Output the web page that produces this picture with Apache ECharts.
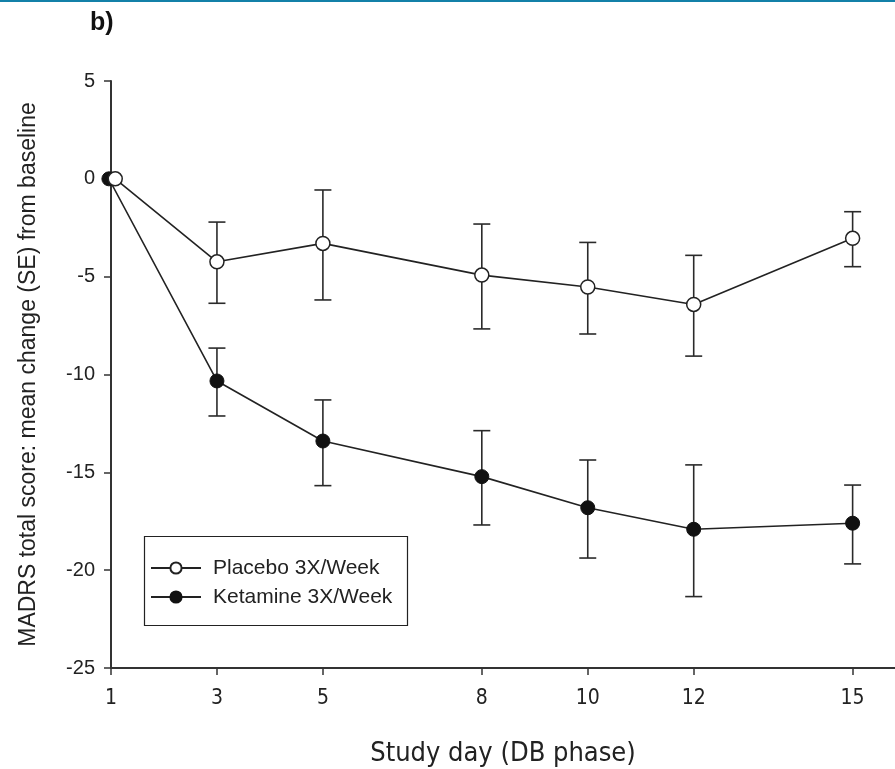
<!DOCTYPE html>
<html>
<head>
<meta charset="utf-8">
<script src="https://cdn.jsdelivr.net/npm/echarts@6/dist/echarts.min.js"></script>
<style>
html,body{margin:0;padding:0;background:#fff;}
#c{width:895px;height:769px;}
</style>
</head>
<body>
<div id="c"></div>
<script>
// ---- data ----
var dayTicks = [1, 3, 5, 8, 10, 12, 15];
var placeboDays = [1.08, 3, 5, 8, 10, 12, 15];
var placeboMean = [0, -4.24, -3.30, -4.92, -5.53, -6.42, -3.04];
var placeboUpper = [null, -2.21, -0.57, -2.31, -3.25, -3.91, -1.68];
var placeboLower = [null, -6.36, -6.19, -7.67, -7.93, -9.06, -4.49];
var ketamineDays = [0.96, 3, 5, 8, 10, 12, 15];
var ketamineMean = [0, -10.33, -13.40, -15.22, -16.81, -17.91, -17.60];
var ketamineUpper = [null, -8.65, -11.30, -12.87, -14.37, -14.62, -15.65];
var ketamineLower = [null, -12.12, -15.68, -17.69, -19.38, -21.35, -19.68];
var seriesNames = ['Placebo 3X/Week', 'Ketamine 3X/Week'];

function pts(xs, ys) { return xs.map(function (x, i) { return [x, ys[i]]; }); }
function bars(xs, up, lo) {
  var out = [];
  xs.forEach(function (x, i) { if (up[i] !== null) out.push([x, lo[i], up[i]]); });
  return out;
}
function errRender(params, api) {
  var x = api.value(0);
  var lo = api.coord([x, api.value(1)]);
  var hi = api.coord([x, api.value(2)]);
  var hw = 8.5;
  var st = { stroke: '#2a2a2a', lineWidth: 1.6 };
  return {
    type: 'group',
    children: [
      { type: 'line', shape: { x1: hi[0], y1: hi[1], x2: lo[0], y2: lo[1] }, style: st },
      { type: 'line', shape: { x1: hi[0] - hw, y1: hi[1], x2: hi[0] + hw, y2: hi[1] }, style: st },
      { type: 'line', shape: { x1: lo[0] - hw, y1: lo[1], x2: lo[0] + hw, y2: lo[1] }, style: st }
    ]
  };
}

var FONT = 'Liberation Sans, Arial, sans-serif';
var NARROW = 'DejaVu Sans Condensed, Liberation Sans, Arial, sans-serif';

var chart = echarts.init(document.getElementById('c'), null, { renderer: 'canvas' });
chart.setOption({
  animation: false,
  backgroundColor: '#ffffff',
  grid: { left: 111, right: 0, top: 81, bottom: 101, containLabel: false, outerBoundsMode: 'none' },
  xAxis: {
    type: 'value', min: 1, max: 15.8,
    name: 'Study day (DB phase)', nameLocation: 'middle', nameGap: 72,
    nameTextStyle: { fontFamily: NARROW, fontSize: 27, color: '#222' },
    axisLine: { show: true, onZero: false, lineStyle: { color: '#333', width: 2 } },
    axisTick: { show: true, inside: false, length: 7, customValues: dayTicks, lineStyle: { color: '#333', width: 1.5 } },
    axisLabel: { customValues: dayTicks, margin: 20, fontFamily: NARROW, fontSize: 21, color: '#222' },
    splitLine: { show: false }
  },
  yAxis: {
    type: 'value', min: -25, max: 5, interval: 5,
    name: 'MADRS total score: mean change (SE) from baseline', nameLocation: 'middle', nameGap: 71,
    nameTextStyle: { fontFamily: FONT, fontSize: 23, color: '#222' },
    axisLine: { show: true, lineStyle: { color: '#333', width: 2 } },
    axisTick: { show: true, inside: false, length: 7, lineStyle: { color: '#333', width: 1.5 } },
    axisLabel: { margin: 16, fontFamily: FONT, fontSize: 20, color: '#222' },
    splitLine: { show: false }
  },
  legend: {
    orient: 'vertical', left: 150, top: 557,
    padding: 0, itemGap: 7, itemWidth: 50, itemHeight: 14,
    textStyle: { fontFamily: FONT, fontSize: 21, lineHeight: 22, color: '#222', padding: [0, 0, 0, 7] },
    data: seriesNames
  },
  series: [
    {
      name: 'Ketamine err', type: 'custom', renderItem: errRender, clip: false,
      data: bars(ketamineDays, ketamineUpper, ketamineLower), z: 2, silent: true
    },
    {
      name: 'Placebo err', type: 'custom', renderItem: errRender, clip: false,
      data: bars(placeboDays, placeboUpper, placeboLower), z: 2, silent: true
    },
    {
      name: seriesNames[1], type: 'line', data: pts(ketamineDays, ketamineMean),
      symbol: 'circle', symbolSize: 14, z: 3, clip: false,
      lineStyle: { color: '#222', width: 1.6 },
      itemStyle: { color: '#111', borderColor: '#111', borderWidth: 1 }
    },
    {
      name: seriesNames[0], type: 'line', data: pts(placeboDays, placeboMean),
      symbol: 'circle', symbolSize: 14, z: 4, clip: false,
      lineStyle: { color: '#222', width: 1.6 },
      itemStyle: { color: '#fff', borderColor: '#222', borderWidth: 1.5 }
    }
  ],
  graphic: [
    { type: 'rect', left: 0, top: 0, shape: { width: 895, height: 2 }, style: { fill: '#1380a8' } },
    { type: 'text', left: 90, top: 11, style: { text: 'b)', font: 'bold 25px Liberation Sans, Arial, sans-serif', fill: '#111' } },
    { type: 'rect', left: 142, top: 534, z: 0, shape: { width: 263, height: 89 }, style: { fill: 'none', stroke: '#222', lineWidth: 1.2 } }
  ]
});
</script>
</body>
</html>
